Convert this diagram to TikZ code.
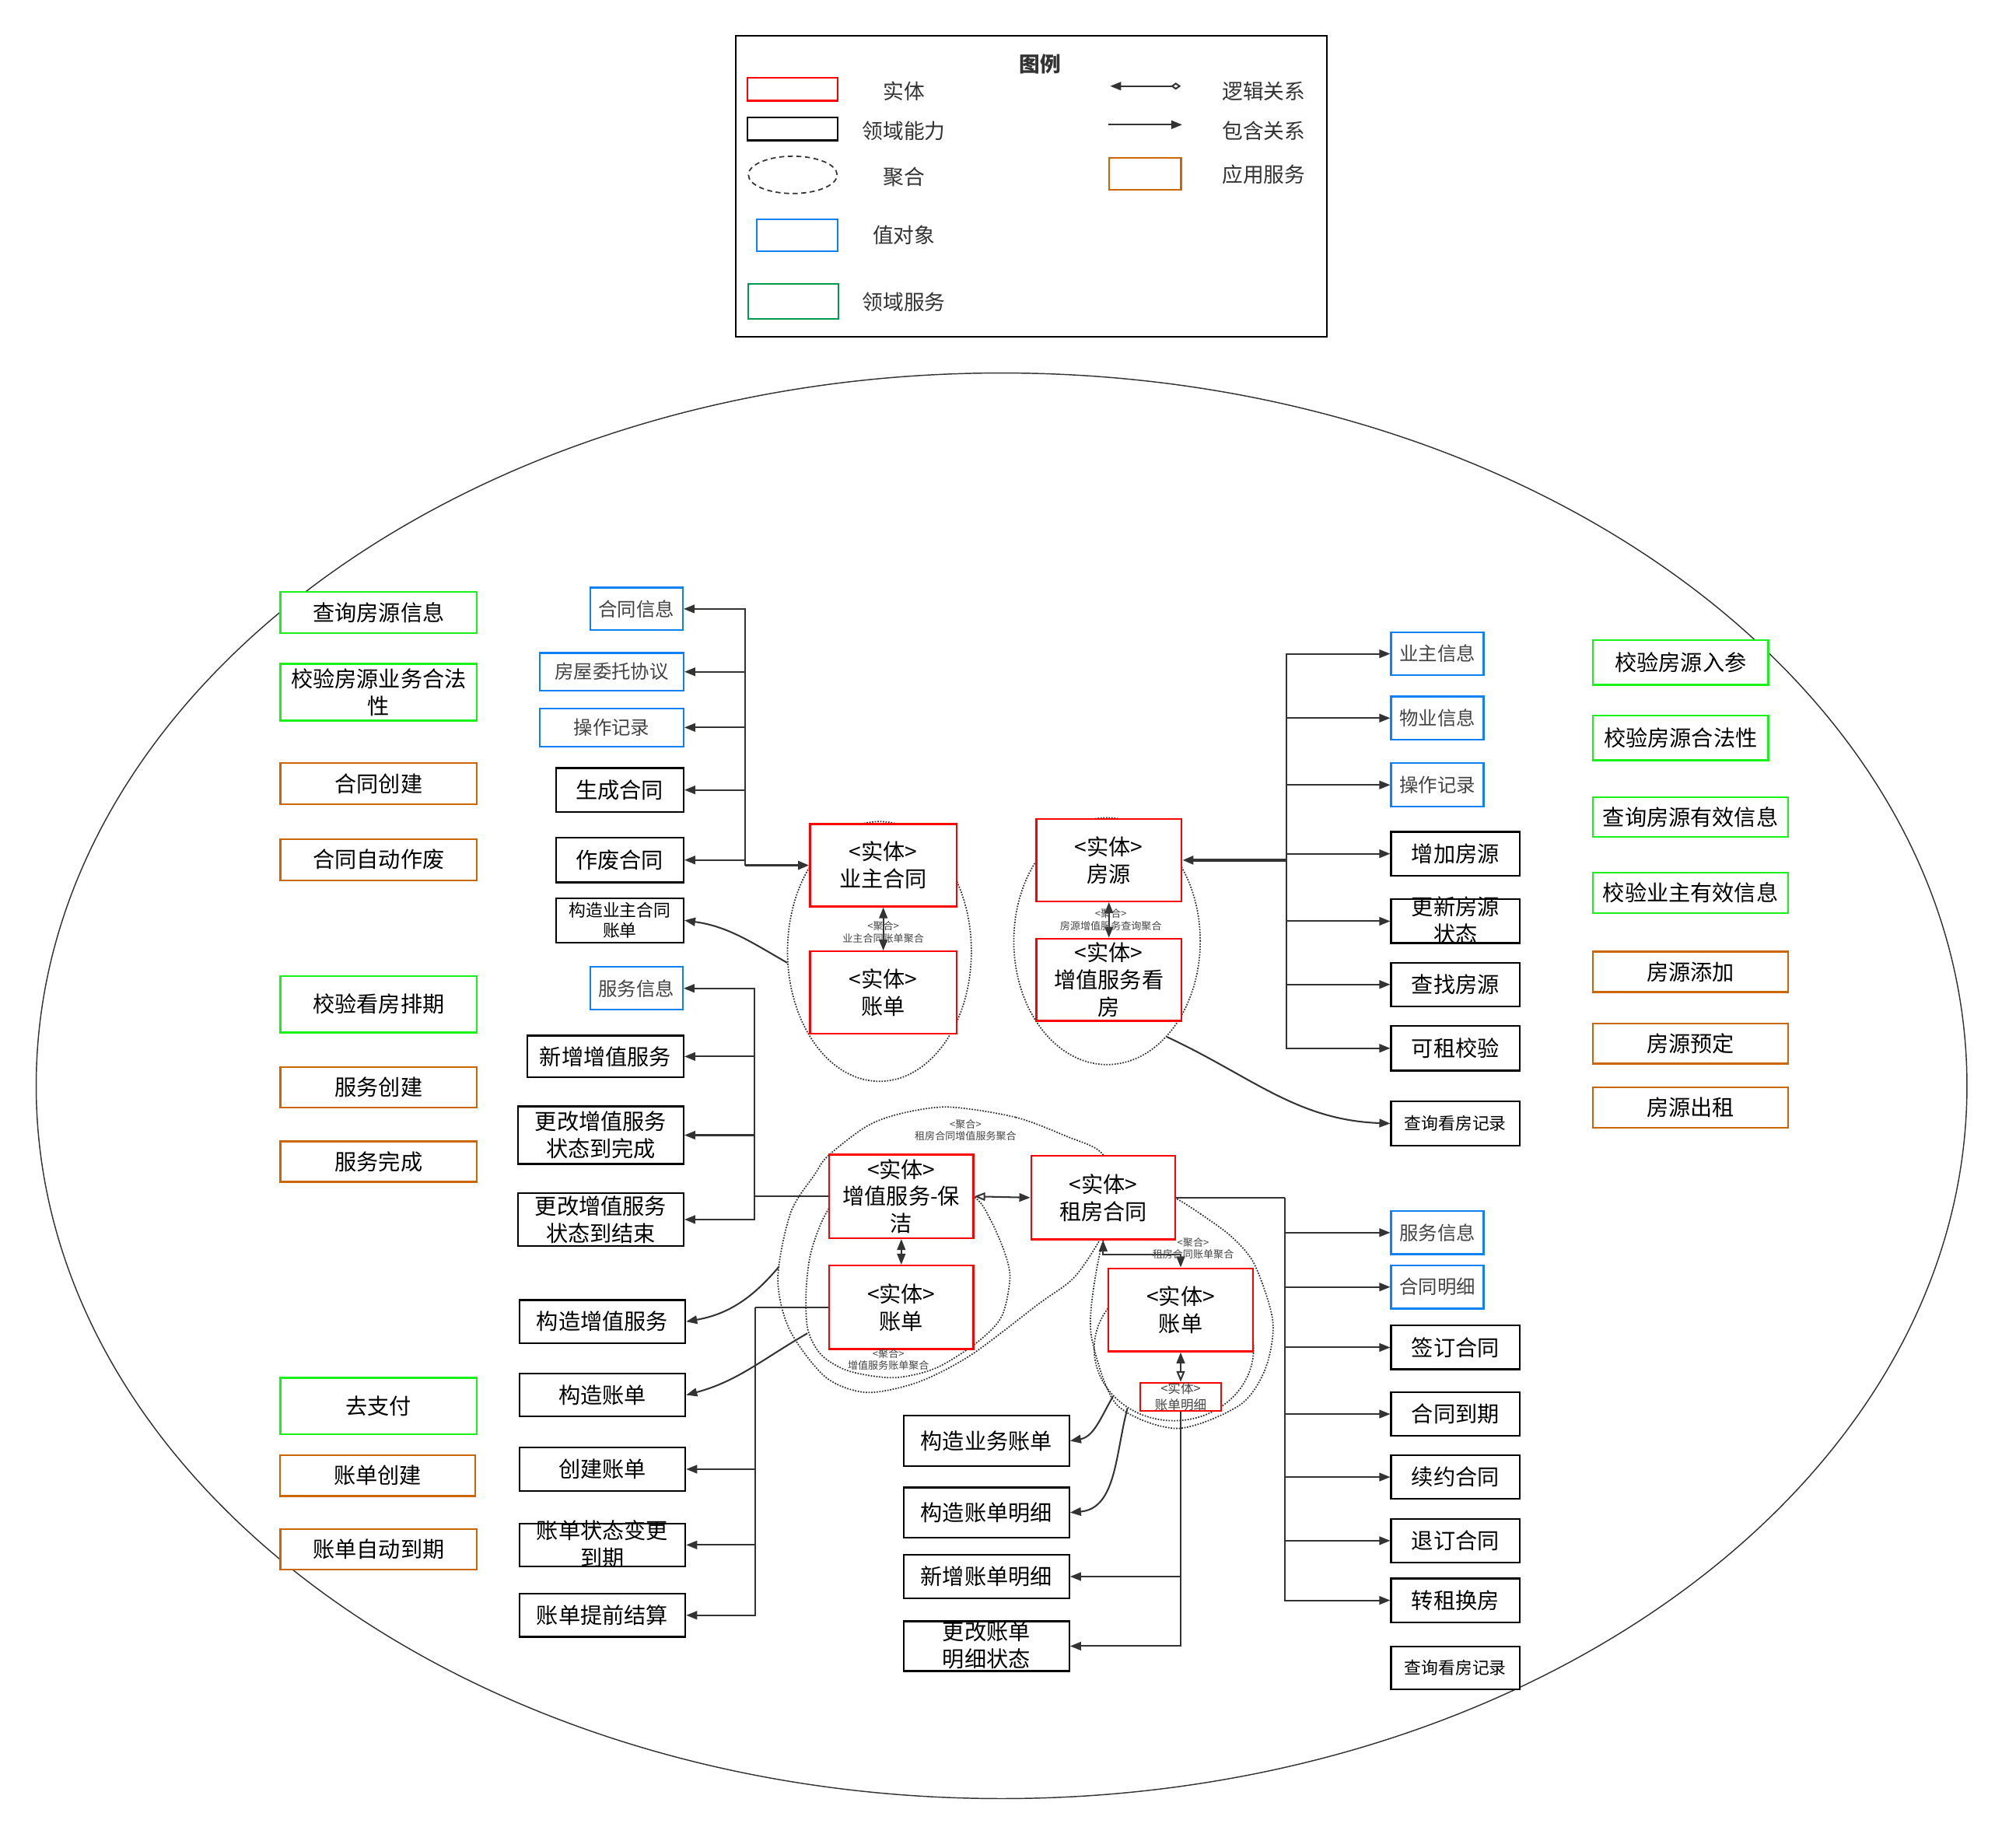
\documentclass[tikz,border=0pt]{standalone}
\usepackage{fontspec}
\setmainfont{Noto Sans CJK SC}
\usetikzlibrary{arrows.meta,shapes.geometric}

\definecolor{entred}{HTML}{FF0000}
\definecolor{voblue}{HTML}{1081F2}
\definecolor{dsgreen}{HTML}{1AF01A}
\definecolor{lggreen}{HTML}{00994D}
\definecolor{asorange}{HTML}{CC6600}
\definecolor{linec}{HTML}{333333}
\definecolor{txtgray}{HTML}{444444}

% two lines that may stick out of their box
\newcommand{\squeezed}[1]{\raisebox{-3.5pt}[0pt][0pt]{\begin{tabular}{@{}c@{}}#1\end{tabular}}}

\tikzset{
  tipf/.tip={Triangle[length=0.17cm,width=0.13cm]},
  tipo/.tip={Triangle[open,length=0.17cm,width=0.13cm]},
  boxbase/.style={rectangle, inner sep=0pt, line width=0.8pt, fill=white, align=center, text=black, font=\fontsize{9.7}{12}\selectfont},
  wh/.style 2 args={minimum width=#1*0.02cm, minimum height=#2*0.02cm},
  entity/.style={boxbase, draw=entred},
  ability/.style={boxbase, draw=black},
  valueobj/.style={boxbase, draw=voblue, text=txtgray, font=\fontsize{8.4}{10}\selectfont},
  domsvc/.style={boxbase, draw=dsgreen},
  appsvc/.style={boxbase, draw=asorange},
  smallab/.style={font=\fontsize{7.5}{9.1}\selectfont},
  aggr/.style={draw=linec, line width=0.6pt, dash pattern=on 0.6pt off 0.6pt},
  aggnode/.style={aggr, ellipse, inner sep=0pt},
  agglabel/.style={inner sep=0pt, align=center, text=txtgray, font=\fontsize{4.5}{5.4}\selectfont},
  legtext/.style={inner sep=0pt, text=linec, font=\fontsize{9.2}{11}\selectfont},
  wire/.style={draw=linec, line width=0.7pt},
  link/.style={wire, -tipf},
  both/.style={wire, tipf-tipf},
}

\begin{document}
\begin{tikzpicture}[x=0.02cm, y=-0.02cm]
\useasboundingbox (0,0) rectangle (1568,1437);

% ---- legend
\draw[line width=0.7pt] (572,28) rectangle (1032,262);
\node[legtext, font=\fontsize{9.2}{11}\selectfont\bfseries] (lgtitle) at (809,50) {图例};
\node[entity, wh={70}{18}] (lgent) at (616.5,69.4) {};
\node[legtext] (lgentt) at (703,71) {实体};
\node[ability, wh={70}{18}] (lgabl) at (616.5,100.2) {};
\node[legtext] (lgablt) at (703,102) {领域能力};
\node[aggnode, dash pattern=on 2.2pt off 1.6pt, wh={69}{29}] (lgagg) at (616.6,136) {};
\node[legtext] (lgaggt) at (703,137.5) {聚合};
\node[valueobj, wh={63}{25}] (lgvo) at (620,183) {};
\node[legtext] (lgvot) at (703,183) {值对象};
\node[domsvc, draw=lggreen, wh={70}{27}] (lgds) at (617,234.5) {};
\node[legtext] (lgdst) at (703,235) {领域服务};
\coordinate (lgla) at (863.5,67);
\coordinate (lglb) at (918.5,67);
\draw[wire, tipf-{Diamond[open,length=0.16cm,width=0.11cm]}] (lgla) -- (lglb);
\node[legtext] (lglt) at (983,71) {逻辑关系};
\coordinate (lgca) at (862,97);
\coordinate (lgcb) at (919.5,97);
\draw[link] (lgca) -- (lgcb);
\node[legtext] (lgct) at (983,102) {包含关系};
\node[appsvc, wh={56}{25}] (lgas) at (890.5,135.2) {};
\node[legtext] (lgast) at (983,136) {应用服务};

% ---- context boundary and aggregates
\draw[linec, line width=0.5pt] (779,844.5) ellipse [x radius=15.02cm, y radius=11.09cm];
\node[aggnode, wh={143}{202}] (yzagg) at (684,740) {};
\node[aggnode, wh={145}{192}] (kfagg) at (861,732) {};
\draw[aggr] plot[smooth cycle] coordinates {(738,861) (790,869) (830,884) (857,897) (872,930) (855,965) (835,994) (808,1014) (755,1054) (714,1075) (674,1083) (642,1071) (614,1034) (605,994) (615,943) (634,913) (644,899) (674,876) (701,866)};
\draw[aggr] plot[smooth cycle] coordinates {(758,931) (770,948) (781,973) (785.5,994) (779,1024) (760,1044) (728,1064) (695.5,1071.5) (660.6,1066.5) (639,1054) (628.3,1034) (627,1004) (631,973) (644,941) (670,912) (720,908)};
\draw[aggr] plot[smooth cycle] coordinates {(914.4,932) (933.5,944) (958,962) (976,984) (990,1028) (984,1065) (964,1093) (915.5,1111) (869,1093) (850,1045) (849,1014) (858,965) (875,935) (895,925)};
\node[aggnode, wh={124}{112}] (mxagg) at (913,1049) {};

% ---- left columns
\node[domsvc, wh={153}{32}] (cxfyxx) at (294.5,476.4) {查询房源信息};
\node[domsvc, wh={153}{44}] (jyywhf) at (294.5,538.4) {校验房源业务合法\\性};
\node[appsvc, wh={153}{32}] (htcj) at (294.5,609.6) {合同创建};
\node[appsvc, wh={153}{32}] (htzdzf) at (294.5,668.6) {合同自动作废};
\node[domsvc, wh={153}{44}] (jykfpq) at (294.5,781) {校验看房排期};
\node[appsvc, wh={153}{31.5}] (fwcj) at (294.5,845.8) {服务创建};
\node[appsvc, wh={153}{31.5}] (fwwc) at (294.5,903.5) {服务完成};
\node[domsvc, wh={153}{43.7}] (qzf) at (294.5,1093.5) {去支付};
\node[appsvc, wh={152}{31.7}] (zdcj) at (293.8,1147.7) {账单创建};
\node[appsvc, wh={153}{31.5}] (zdzddq) at (294.5,1205.2) {账单自动到期};

\node[valueobj, wh={72}{33}] (htxx) at (495,473.6) {合同信息};
\node[valueobj, wh={111.6}{29.5}] (wtxy) at (475.8,522.5) {房屋委托协议};
\node[valueobj, wh={111.6}{29.7}] (czjla) at (475.8,565.8) {操作记录};
\node[ability, wh={99.2}{34.2}] (scht) at (482,614.4) {生成合同};
\node[ability, wh={99.2}{34.6}] (zfhtong) at (482,668.9) {作废合同};
\node[ability, smallab, wh={99.2}{34.4}] (gzyzzd) at (482,715.8) {构造业主合同\\账单};
\node[valueobj, wh={72}{33.4}] (fwxxa) at (495,768.7) {服务信息};
\node[ability, wh={121.4}{32.5}] (xzzzfw) at (470.9,821.7) {新增增值服务};
\node[ability, wh={128.6}{44.7}] (ggwc) at (467.3,882.9) {更改增值服务\\状态到完成};
\node[ability, wh={128.6}{41}] (ggjs) at (467.3,948.5) {更改增值服务\\状态到结束};
\node[ability, wh={129}{33.7}] (gzzzfw) at (468.5,1027.9) {构造增值服务};
\node[ability, wh={129}{33.3}] (gzzd) at (468.5,1085) {构造账单};
\node[ability, wh={129}{33.7}] (cjzd) at (468.5,1142.7) {创建账单};
\node[ability, wh={129}{33.4}] (zdbgdq) at (468.5,1201.6) {\squeezed{账单状态变更\\到期}};
\node[ability, wh={129}{33.4}] (zdtqjs) at (468.5,1256.3) {账单提前结算};

% ---- entities
\node[entity, wh={114}{64}] (yzht) at (687,673) {<实体>\\业主合同};
\node[entity, wh={114}{64}] (yzzd) at (687,772) {<实体>\\账单};
\node[entity, wh={113}{64}] (fy) at (862.5,669) {<实体>\\房源};
\node[entity, wh={113}{64}] (zzkf) at (862.5,762) {<实体>\\增值服务看\\房};
\node[entity, wh={112}{65}] (bj) at (701,930.5) {<实体>\\增值服务-保\\洁};
\node[entity, wh={112}{65}] (bjzd) at (701,1016.8) {<实体>\\账单};
\node[entity, wh={112}{65}] (zufang) at (858,931.5) {<实体>\\租房合同};
\node[entity, wh={112.6}{64.7}] (zfzd) at (918.3,1018.8) {<实体>\\账单};
\node[entity, line width=0.6pt, text=txtgray, font=\fontsize{5.7}{7.1}\selectfont, wh={63}{22}] (zdmx) at (918.3,1086.4) {<实体>\\账单明细};

% ---- bottom centre
\node[ability, wh={128.8}{39.4}] (gzywzd) at (767.2,1120.7) {构造业务账单};
\node[ability, wh={128.8}{39}] (gzzdmx) at (767.2,1176.4) {构造账单明细};
\node[ability, wh={128.8}{33.5}] (xzzdmx) at (767.2,1226.2) {新增账单明细};
\node[ability, wh={128.8}{38.8}] (ggzdmx) at (767.2,1280.3) {\squeezed{更改账单\\明细状态}};

% ---- right columns
\node[valueobj, wh={72}{33}] (yzxx) at (1118,508.5) {业主信息};
\node[valueobj, wh={72}{33.5}] (wyxx) at (1118,558.5) {物业信息};
\node[valueobj, wh={72}{33.8}] (czjlb) at (1118,610.5) {操作记录};
\node[ability, wh={100}{34}] (zjfy) at (1132,664) {增加房源};
\node[ability, wh={100}{34}] (gxfyzt) at (1132,716.5) {\squeezed{更新房源\\状态}};
\node[ability, wh={100}{34}] (czfy) at (1132,765.7) {查找房源};
\node[ability, wh={100}{34.6}] (kzjy) at (1132,815.3) {可租校验};
\node[ability, smallab, wh={100}{34.3}] (cxkfjla) at (1132,873.8) {查询看房记录};

\node[valueobj, wh={72}{33.3}] (fwxxb) at (1118,958.7) {服务信息};
\node[valueobj, wh={72}{33.6}] (htmx) at (1118,1001) {合同明细};
\node[ability, wh={100}{34}] (qdht) at (1132,1048) {签订合同};
\node[ability, wh={100}{34}] (htdq) at (1132,1099.8) {合同到期};
\node[ability, wh={100}{34}] (xyht) at (1132,1148.8) {续约合同};
\node[ability, wh={100}{34}] (tdht) at (1132,1198.3) {退订合同};
\node[ability, wh={100}{34}] (zzhf) at (1132,1244.7) {转租换房};
\node[ability, smallab, wh={100}{33.4}] (cxkfjlb) at (1132,1297.3) {查询看房记录};

\node[domsvc, wh={136.4}{34.9}] (jyfyrc) at (1307.2,515.2) {校验房源入参};
\node[domsvc, wh={136.4}{34.9}] (jyfyhfx) at (1307.2,573.9) {校验房源合法性};
\node[domsvc, wh={151.8}{31}] (cxfyyx) at (1314.9,635.5) {查询房源有效信息};
\node[domsvc, wh={151.8}{31.5}] (jyyzyx) at (1314.9,694.3) {校验业主有效信息};
\node[appsvc, wh={151.8}{31.5}] (fytj) at (1314.9,755.8) {房源添加};
\node[appsvc, wh={151.8}{31.4}] (fyyd) at (1314.9,811.6) {房源预定};
\node[appsvc, wh={151.8}{31.4}] (fycz) at (1314.9,861.4) {房源出租};

% ---- connectors
\coordinate (yzbus) at ([xshift=-1cm]yzht.west);
\draw[link, line width=1.1pt] (yzbus) -- (yzht.west);
\foreach \n in {htxx,wtxy,czjla,scht,zfhtong}
  \draw[link] (yzbus) |- (\n.east);

\coordinate (fybus) at ([xshift=1.62cm]fy.east);
\draw[link, line width=1.1pt] (fybus) -- (fy.east);
\foreach \n in {yzxx,wyxx,czjlb,zjfy,gxfyzt,czfy,kzjy}
  \draw[link] (fybus) |- (\n.west);

\coordinate (zfbus) at ([xshift=1.69cm]zufang.east);
\draw[wire] (zufang.east) -- (zfbus);
\foreach \n in {fwxxb,htmx,qdht,htdq,xyht,tdht,zzhf}
  \draw[link] (zfbus) |- (\n.west);

\coordinate (bjbus) at ([xshift=-1.15cm]bj.west);
\draw[wire] (bj.west) -- (bjbus);
\foreach \n in {fwxxa,xzzzfw,ggwc,ggjs}
  \draw[link] (bjbus) |- (\n.east);

\coordinate (bjzdbus) at ([xshift=-1.14cm]bjzd.west);
\draw[wire] (bjzd.west) -- (bjzdbus);
\foreach \n in {cjzd,zdbgdq,zdtqjs}
  \draw[link] (bjzdbus) |- (\n.east);

\foreach \n in {xzzdmx,ggzdmx}
  \draw[link] (zdmx.south) |- (\n.east);

\draw[both] (yzht.south) -- (yzzd.north);
\draw[both] (fy.south) -- (zzkf.north);
\draw[both] (bj.south) -- (bjzd.north);
\draw[wire, tipo-tipf] (bj.east) -- (zufang.west);
\draw[both] (zufang.south) -- ++(0,11) -| (zfzd.north);
\draw[wire, tipf-tipo] (zfzd.south) -- (zdmx.north);

\coordinate (zzleft) at (606,985);
\coordinate (bjleft) at (628,1037);
\draw[link] (yzagg.187) to[out=150,in=-8] (gzyzzd.east);
\draw[link] (kfagg.-58) to[out=-25,in=178] (cxkfjla.west);
\draw[link] (zzleft) to[out=-130,in=10] (gzzzfw.east);
\draw[link] (bjleft) to[out=-150,in=15] (gzzd.east);
\draw[link] (mxagg.218) to[out=-120,in=10] (gzywzd.east);
\draw[link] (mxagg.232) to[out=-105,in=5] (gzzdmx.east);

% ---- aggregate names
\node[agglabel] (lbyz) at (687,725) {<聚合>\\业主合同账单聚合};
\node[agglabel] (lbkf) at (864,715.5) {<聚合>\\房源增值服务查询聚合};
\node[agglabel] (lbzz) at (751,879) {<聚合>\\租房合同增值服务聚合};
\node[agglabel] (lbbj) at (691,1057.5) {<聚合>\\增值服务账单聚合};
\node[agglabel] (lbzf) at (928,971) {<聚合>\\租房合同账单聚合};
\end{tikzpicture}
\end{document}
